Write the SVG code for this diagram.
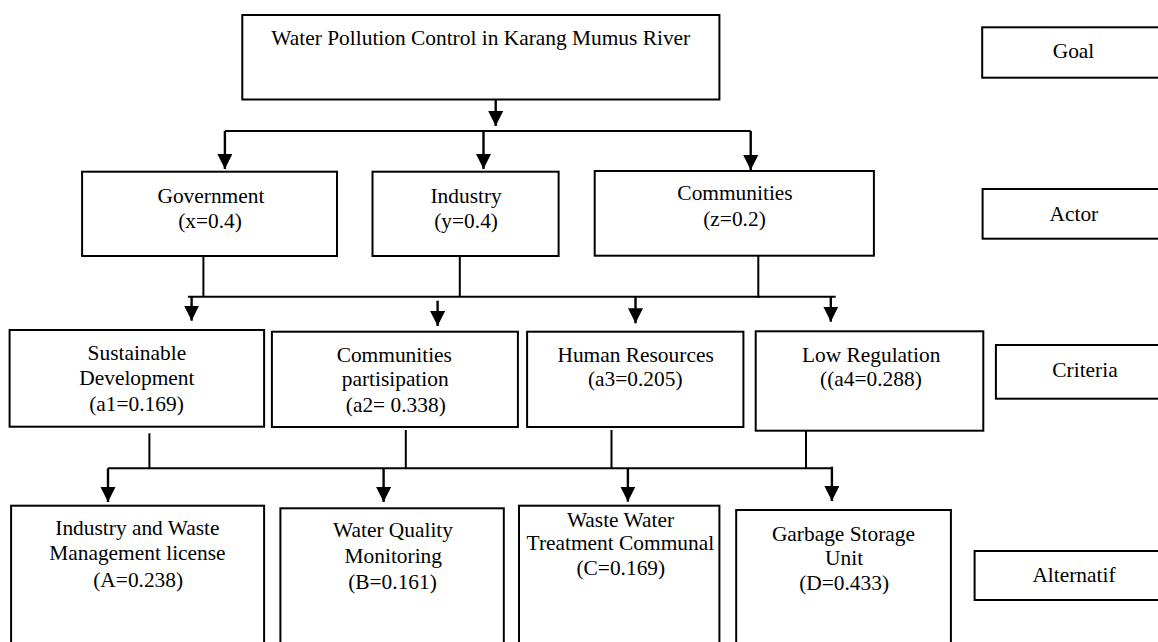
<svg xmlns="http://www.w3.org/2000/svg" width="1158" height="642" viewBox="0 0 1158 642">
<style>
.box{fill:#fff;stroke:#000;stroke-width:2}
.ln{fill:none;stroke:#000;stroke-width:2}
.ar{fill:none;stroke:#000;stroke-width:2.4;marker-end:url(#ah)}
text{font-family:"Liberation Serif","Times New Roman",serif;font-size:21.4px;fill:#000;text-anchor:middle}
</style>
<defs>
<marker id="ah" markerUnits="userSpaceOnUse" markerWidth="16" markerHeight="16" refX="15" refY="7.5" orient="auto">
<path d="M0,0 L15,7.5 L0,15 z" fill="#000"/>
</marker>
</defs>
<rect width="1158" height="642" fill="#fff"/>

<g id="connectors">
<line class="ar" x1="495.7" y1="99" x2="495.7" y2="126"/>
<line class="ln" x1="224.9" y1="131" x2="750.7" y2="131"/>
<line class="ar" x1="224.9" y1="131" x2="224.9" y2="169"/>
<line class="ar" x1="483.5" y1="131" x2="483.5" y2="169"/>
<line class="ar" x1="750.7" y1="131" x2="750.7" y2="170"/>

<line class="ln" x1="203.4" y1="256" x2="203.4" y2="296.7"/>
<line class="ln" x1="459.8" y1="256" x2="459.8" y2="296.7"/>
<line class="ln" x1="758.3" y1="255.7" x2="758.3" y2="298"/>
<line class="ln" x1="187.9" y1="296.7" x2="835.7" y2="296.7"/>
<line class="ar" x1="191.6" y1="296.7" x2="191.6" y2="320.7"/>
<line class="ar" x1="437.6" y1="300.7" x2="437.6" y2="326"/>
<line class="ar" x1="635.5" y1="296.7" x2="635.5" y2="323.3"/>
<line class="ar" x1="830.8" y1="296.7" x2="830.8" y2="321.7"/>

<line class="ln" x1="149.4" y1="433.3" x2="149.4" y2="468.3"/>
<line class="ln" x1="405.8" y1="430" x2="405.8" y2="468.3"/>
<line class="ln" x1="611.5" y1="430" x2="611.5" y2="468.3"/>
<line class="ln" x1="806" y1="430.7" x2="806" y2="468.3"/>
<line class="ln" x1="108" y1="468.3" x2="831.9" y2="468.3"/>
<line class="ar" x1="108" y1="468.3" x2="108" y2="502"/>
<line class="ar" x1="383.6" y1="468.3" x2="383.6" y2="502"/>
<line class="ar" x1="627.9" y1="468.3" x2="627.9" y2="501.7"/>
<line class="ar" x1="831.9" y1="466.7" x2="831.9" y2="501"/>
</g>

<g id="goal">
<rect class="box" x="242.3" y="15" width="477.1" height="84.5"/>
<text x="480.8" y="45">Water Pollution Control in Karang Mumus River</text>
</g>

<g id="government">
<rect class="box" x="82.1" y="171.7" width="254.9" height="84.3"/>
<text x="210.9" y="203">Government</text>
<text x="210" y="228">(x=0.4)</text>
</g>
<g id="industry">
<rect class="box" x="372.5" y="171.7" width="186.1" height="84.3"/>
<text x="466.1" y="203">Industry</text>
<text x="466.1" y="228">(y=0.4)</text>
</g>
<g id="communities">
<rect class="box" x="594.7" y="171" width="279.2" height="84.7"/>
<text x="735" y="200">Communities</text>
<text x="734.5" y="226">(z=0.2)</text>
</g>

<g id="sustainable-development">
<rect class="box" x="9.6" y="330" width="254.5" height="96.7"/>
<text x="136.9" y="360">Sustainable</text>
<text x="136.9" y="385">Development</text>
<text x="136.5" y="411">(a1=0.169)</text>
</g>
<g id="communities-partisipation">
<rect class="box" x="271.9" y="331.7" width="246" height="95.3"/>
<text x="394.3" y="361.7">Communities</text>
<text x="395.2" y="386">partisipation</text>
<text x="395.8" y="411.7">(a2= 0.338)</text>
</g>
<g id="human-resources">
<rect class="box" x="527.1" y="331.7" width="216.3" height="95.3"/>
<text x="635.6" y="361.7">Human Resources</text>
<text x="635.2" y="386">(a3=0.205)</text>
</g>
<g id="low-regulation">
<rect class="box" x="755.7" y="331.3" width="227.6" height="99.4"/>
<text x="871.2" y="361.7">Low Regulation</text>
<text x="870.9" y="386">((a4=0.288)</text>
</g>

<g id="alt-a">
<rect class="box" x="11.1" y="505.7" width="253" height="150"/>
<text x="137.4" y="535">Industry and Waste</text>
<text x="137.4" y="560">Management license</text>
<text x="138.2" y="586.7">(A=0.238)</text>
</g>
<g id="alt-b">
<rect class="box" x="280.4" y="508.3" width="223.4" height="150"/>
<text x="393" y="537">Water Quality</text>
<text x="393.3" y="563">Monitoring</text>
<text x="392.5" y="589">(B=0.161)</text>
</g>
<g id="alt-c">
<rect class="box" x="519" y="505.7" width="200.4" height="150"/>
<text x="620.5" y="526.7">Waste Water</text>
<text x="620.4" y="550">Treatment Communal</text>
<text x="620.8" y="575">(C=0.169)</text>
</g>
<g id="alt-d">
<rect class="box" x="736.2" y="510" width="214.7" height="150"/>
<text x="843.5" y="540.7">Garbage Storage</text>
<text x="844.1" y="565">Unit</text>
<text x="844.1" y="590">(D=0.433)</text>
</g>

<g id="label-goal">
<rect class="box" x="982.2" y="27.3" width="190" height="50.4"/>
<text x="1073.5" y="58.3">Goal</text>
</g>
<g id="label-actor">
<rect class="box" x="982.6" y="189" width="190" height="49.7"/>
<text x="1073.9" y="220.7">Actor</text>
</g>
<g id="label-criteria">
<rect class="box" x="995.9" y="345" width="190" height="53.7"/>
<text x="1085" y="376.7">Criteria</text>
</g>
<g id="label-alternatif">
<rect class="box" x="974.6" y="551" width="200" height="49"/>
<text x="1074" y="581.7">Alternatif</text>
</g>
</svg>
